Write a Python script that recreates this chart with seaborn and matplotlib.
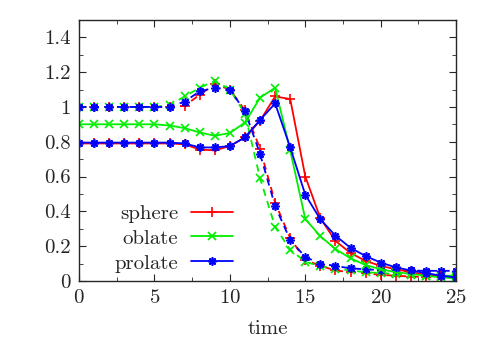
import matplotlib
matplotlib.use("Agg")
import matplotlib.pyplot as plt
import numpy as np
import pandas as pd
import seaborn as sns
from matplotlib.ticker import MultipleLocator, FuncFormatter

# data
time = list(range(26))

sphere_solid = [0.79, 0.79, 0.79, 0.79, 0.79, 0.79, 0.79, 0.785, 0.755, 0.75, 0.775,
                0.825, 0.92, 1.06, 1.045, 0.60, 0.36, 0.23, 0.16, 0.115, 0.086,
                0.067, 0.05, 0.036, 0.026, 0.02]
oblate_solid = [0.90, 0.90, 0.90, 0.90, 0.90, 0.90, 0.893, 0.878, 0.853, 0.834, 0.85,
                0.91, 1.053, 1.11, 0.75, 0.355, 0.257, 0.183, 0.13, 0.091, 0.067,
                0.05, 0.04, 0.03, 0.02, 0.015]
prolate_solid = [0.795, 0.795, 0.795, 0.795, 0.795, 0.795, 0.795, 0.79, 0.767, 0.767, 0.775,
                 0.825, 0.925, 1.02, 0.767, 0.495, 0.354, 0.26, 0.19, 0.143, 0.105,
                 0.078, 0.06, 0.045, 0.03, 0.02]

sphere_dashed = [1.0, 1.0, 1.0, 1.0, 1.0, 1.0, 1.0, 1.006, 1.07, 1.13, 1.10,
                 0.98, 0.76, 0.45, 0.245, 0.12, 0.087, 0.06, 0.05, 0.044, 0.035,
                 0.03, 0.025, 0.022, 0.02, 0.02]
oblate_dashed = [1.0, 1.0, 1.0, 1.0, 1.0, 1.0, 1.01, 1.06, 1.11, 1.15, 1.10,
                 0.96, 0.59, 0.31, 0.18, 0.11, 0.085, 0.07, 0.06, 0.05, 0.045,
                 0.04, 0.035, 0.03, 0.03, 0.03]
prolate_dashed = [1.0, 1.0, 1.0, 1.0, 1.0, 1.0, 1.0, 1.03, 1.09, 1.11, 1.10,
                  0.975, 0.73, 0.43, 0.235, 0.137, 0.10, 0.086, 0.072, 0.067, 0.062,
                  0.06, 0.06, 0.058, 0.058, 0.058]

labels = ["sphere", "oblate", "prolate"]
colors = ["#ff0000", "#00ee00", "#0000ff"]
markers = ["+", "x", (8, 2, 0)]
msizes = [7, 6, 6]

sns.set_style("ticks")
plt.rcParams["font.family"] = ["cmr10", "DejaVu Serif"]
plt.rcParams["mathtext.fontset"] = "cm"
plt.rcParams["axes.formatter.use_mathtext"] = True

fig = plt.figure(figsize=(4.91, 3.43), dpi=100)
ax = fig.add_axes([0.161, 0.181, 0.768, 0.761])

solids = [sphere_solid, oblate_solid, prolate_solid]
dashes = [sphere_dashed, oblate_dashed, prolate_dashed]

for vals, lab, c, m, ms in zip(dashes, labels, colors, markers, msizes):
    df = pd.DataFrame({"time": time, "value": vals})
    sns.lineplot(data=df, x="time", y="value", ax=ax, color=c, marker=m,
                 markersize=ms, markeredgewidth=1.2, markeredgecolor=c,
                 linewidth=1.3, linestyle=(0, (4, 3)), legend=False)

for vals, lab, c, m, ms in zip(solids, labels, colors, markers, msizes):
    df = pd.DataFrame({"time": time, "value": vals})
    sns.lineplot(data=df, x="time", y="value", ax=ax, color=c, marker=m,
                 markersize=ms, markeredgewidth=1.2, markeredgecolor=c,
                 linewidth=1.3, label=lab)

ax.set_xlim(0, 25)
ax.set_ylim(0, 1.5)
ax.xaxis.set_major_locator(MultipleLocator(5))
ax.xaxis.set_minor_locator(MultipleLocator(2.5))
ax.yaxis.set_major_locator(MultipleLocator(0.2))
ax.yaxis.set_minor_locator(MultipleLocator(0.1))
ax.yaxis.set_major_formatter(FuncFormatter(lambda v, p: f"{v:g}" if v < 1.45 else ""))
ax.tick_params(which="both", direction="in", top=True, right=True, labelsize=15, pad=6)
ax.tick_params(which="major", length=5)
ax.tick_params(which="minor", length=3)
for s in ax.spines.values():
    s.set_linewidth(1.0)
ax.set_xlabel("time", fontsize=15, labelpad=9)
ax.set_ylabel("")

ax.legend(loc="lower right", bbox_to_anchor=(0.457, -0.04), frameon=False,
          markerfirst=False, fontsize=15, handlelength=2.0, handletextpad=0.6,
          labelspacing=0.3)

fig.savefig("out.png", dpi=100)
